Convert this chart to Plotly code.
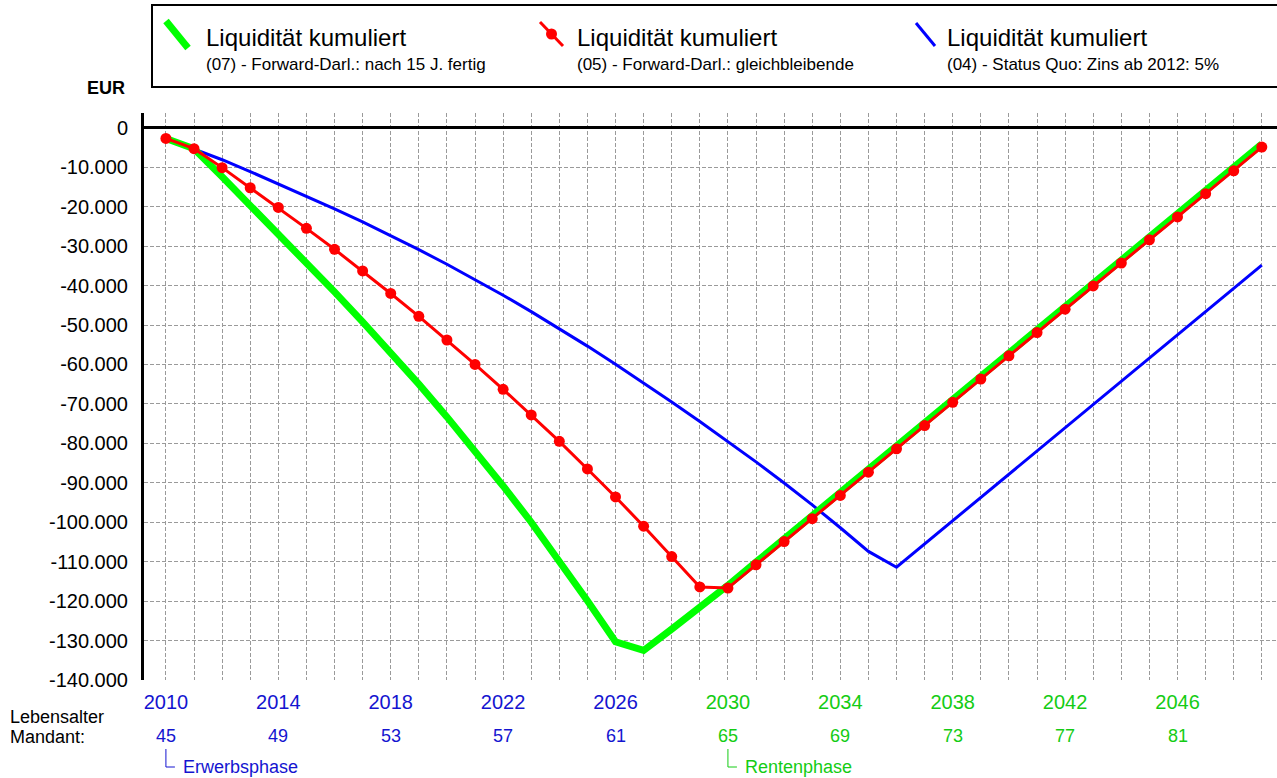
import plotly.graph_objects as go

# ---------------- data ----------------
years = [2010, 2011, 2012, 2013, 2014, 2015, 2016, 2017, 2018, 2019,
         2020, 2021, 2022, 2023, 2024, 2025, 2026, 2027, 2028, 2029,
         2030, 2031, 2032, 2033, 2034, 2035, 2036, 2037, 2038, 2039,
         2040, 2041, 2042, 2043, 2044, 2045, 2046, 2047, 2048, 2049]

# (07) Forward-Darl.: nach 15 J. fertig (green)
liq_07 = [-2700, -5300, -12400, -19550, -26800, -34150, -41600, -49200, -57000, -65000,
          -73300, -81900, -90800, -100000, -109600, -119900, -130300, -132500, -127100, -121700,
          -116000, -110100, -104200, -98400, -92500, -86600, -80700, -74800, -68900, -63000,
          -57100, -51200, -45300, -39400, -33600, -27700, -21900, -16000, -10200, -4100]

# (05) Forward-Darl.: gleichbleibende (red)
liq_05 = [-2700, -5300, -10100, -15200, -20200, -25500, -30800, -36300, -42000, -47800,
          -53800, -60000, -66300, -72800, -79500, -86500, -93600, -101000, -108700, -116400,
          -116700, -110800, -104900, -99100, -93200, -87300, -81400, -75500, -69600, -63700,
          -57800, -51900, -46000, -40100, -34300, -28400, -22600, -16700, -10900, -4900]

# (04) Status Quo: Zins ab 2012: 5% (blue)
liq_04 = [-2700, -5300, -8100, -11100, -14200, -17350, -20550, -23850, -27300, -30900,
          -34600, -38450, -42450, -46600, -50900, -55350, -59950, -64650, -69500, -74450,
          -79500, -84700, -90050, -95600, -101400, -107400, -111400, -105500, -99600, -93700,
          -87800, -81900, -76100, -70200, -64300, -58400, -52500, -46600, -40700, -34800]

label_years = [2010, 2014, 2018, 2022, 2026, 2030, 2034, 2038, 2042, 2046]
ages = [45, 49, 53, 57, 61, 65, 69, 73, 77, 81]
retire_year = 2030
y_ticks = [0, -10000, -20000, -30000, -40000, -50000, -60000, -70000,
           -80000, -90000, -100000, -110000, -120000, -130000, -140000]

legend_title = "Liquidität kumuliert"
legend_subs = ["(07) - Forward-Darl.: nach 15 J. fertig",
               "(05) - Forward-Darl.: gleichbleibende",
               "(04) - Status Quo: Zins ab 2012: 5%"]
phase_names = ["Erwerbsphase", "Rentenphase"]
phase_years = [2010, 2030]

# ---------------- style ----------------
GREEN = "#00FF00"
RED = "#FF0000"
BLUE = "#0000FF"
TXT_BLUE = "#1414D0"
TXT_GREEN = "#14CC14"
FONT = "Liberation Sans, Arial, sans-serif"

W, H = 1277, 778
L, R, T, B = 144, 0, 113, 98
PW, PH = W - L - R, H - T - B
X0, X1 = 2009.22, 2049.54


def px(x):
    return (x - L) / PW


def py(y):
    return (H - B - y) / PH


def ycol(yr):
    return TXT_BLUE if yr < retire_year else TXT_GREEN


fig = go.Figure()
fig.add_trace(go.Scatter(x=years, y=liq_04, mode="lines",
                         line=dict(color=BLUE, width=3), name=legend_subs[2]))
fig.add_trace(go.Scatter(x=years, y=liq_07, mode="lines",
                         line=dict(color=GREEN, width=7), name=legend_subs[0]))
fig.add_trace(go.Scatter(x=years, y=liq_05, mode="lines+markers",
                         line=dict(color=RED, width=3),
                         marker=dict(color=RED, size=11), name=legend_subs[1]))

x_ticktext = []
for yr in years:
    if yr in label_years:
        x_ticktext.append(f"<span style='color:{ycol(yr)}'>{yr}</span>")
    else:
        x_ticktext.append("")

y_ticktext = [f"{v:,}".replace(",", ".") for v in y_ticks]

grid = dict(showgrid=True, gridcolor="#9a9a9a", gridwidth=1, griddash="4px,2px")

fig.update_layout(
    width=W, height=H,
    margin=dict(l=L, r=R, t=T, b=B, pad=0),
    plot_bgcolor="white", paper_bgcolor="white",
    showlegend=False,
    font=dict(family=FONT, color="black"),
    xaxis=dict(range=[X0, X1], tickmode="array", tickvals=years,
               ticktext=x_ticktext, tickfont=dict(size=20), ticks="",
               ticklabelstandoff=8, zeroline=False, showline=False, **grid),
    yaxis=dict(range=[-140000, 3750], tickmode="array", tickvals=y_ticks,
               ticktext=y_ticktext, tickfont=dict(size=20), ticks="",
               ticklabelstandoff=9,
               zeroline=True, zerolinecolor="black", zerolinewidth=3,
               showline=True, linecolor="black", linewidth=3, **grid),
)

shapes = []
annotations = []

# legend frame
shapes.append(dict(type="rect", xref="paper", yref="paper",
                   x0=px(152), x1=px(1290), y0=py(87), y1=py(5),
                   line=dict(color="black", width=2), fillcolor="white", layer="above"))
# legend symbols
shapes.append(dict(type="line", xref="paper", yref="paper",
                   x0=px(166), y0=py(21), x1=px(188), y1=py(48),
                   line=dict(color=GREEN, width=7)))
shapes.append(dict(type="line", xref="paper", yref="paper",
                   x0=px(540), y0=py(22), x1=px(563), y1=py(46),
                   line=dict(color=RED, width=3)))
shapes.append(dict(type="circle", xref="paper", yref="paper",
                   x0=px(546), x1=px(557), y0=py(39.5), y1=py(28.5),
                   line=dict(color=RED, width=0), fillcolor=RED))
shapes.append(dict(type="line", xref="paper", yref="paper",
                   x0=px(916), y0=py(23), x1=px(935), y1=py(46),
                   line=dict(color=BLUE, width=3)))

for xt, sub in zip([204, 575, 945], legend_subs):
    annotations.append(dict(xref="paper", yref="paper", x=px(xt), y=py(37),
                            xanchor="left", yanchor="middle", showarrow=False,
                            text=legend_title, font=dict(size=24, color="black")))
    annotations.append(dict(xref="paper", yref="paper", x=px(xt), y=py(64),
                            xanchor="left", yanchor="middle", showarrow=False,
                            text=sub, font=dict(size=17, color="black")))

# EUR
annotations.append(dict(xref="paper", yref="paper", x=px(127), y=py(88),
                        xanchor="right", yanchor="middle", showarrow=False,
                        text="<b>EUR</b>", font=dict(size=18, color="black")))

# ages
for yr, a in zip(label_years, ages):
    annotations.append(dict(xref="x", yref="paper", x=yr, y=py(736),
                            xanchor="center", yanchor="middle", showarrow=False,
                            text=str(a), font=dict(size=18, color=ycol(yr))))

annotations.append(dict(xref="paper", yref="paper", x=px(8), y=py(717),
                        xanchor="left", yanchor="middle", showarrow=False,
                        text="Lebensalter", font=dict(size=18, color="black")))
annotations.append(dict(xref="paper", yref="paper", x=px(8), y=py(737),
                        xanchor="left", yanchor="middle", showarrow=False,
                        text="Mandant:", font=dict(size=18, color="black")))

# phase brackets
for yr, name in zip(phase_years, phase_names):
    xp = L + (yr - X0) * (PW / (X1 - X0))
    c = ycol(yr)
    shapes.append(dict(type="line", xref="paper", yref="paper",
                       x0=px(xp), x1=px(xp), y0=py(749), y1=py(767),
                       line=dict(color=c, width=1)))
    shapes.append(dict(type="line", xref="paper", yref="paper",
                       x0=px(xp), x1=px(xp + 9), y0=py(767), y1=py(767),
                       line=dict(color=c, width=1)))
    annotations.append(dict(xref="paper", yref="paper", x=px(xp + 15), y=py(767),
                            xanchor="left", yanchor="middle", showarrow=False,
                            text=name, font=dict(size=18, color=c)))

fig.update_layout(shapes=shapes, annotations=annotations)

fig.write_html("out.html", config={"displayModeBar": False},
               post_script="document.body.style.margin='0';document.body.style.overflow='hidden';")
